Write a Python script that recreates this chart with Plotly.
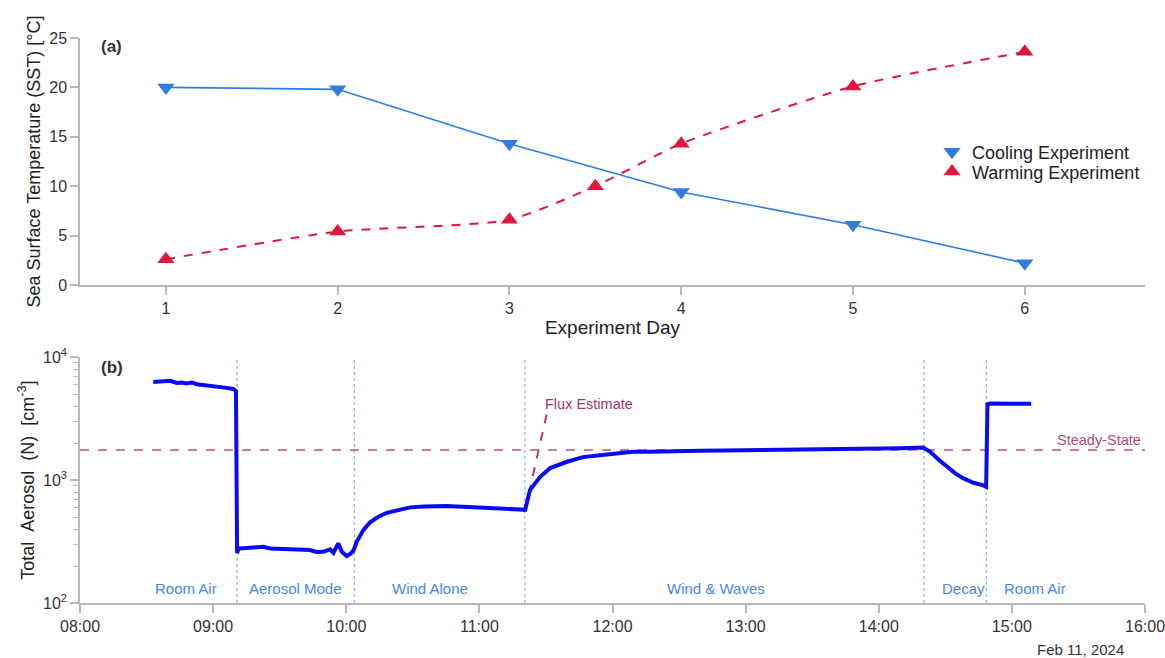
import math
import plotly.graph_objects as go

# ---------------- Panel (a): sea surface temperature by experiment day ----------------
cool_day = [1, 2, 3, 4, 5, 6]
cool_sst = [20.0, 19.8, 14.3, 9.4, 6.1, 2.2]

warm_day = [1, 2, 3, 3.5, 4, 5, 6]
warm_sst = [2.6, 5.4, 6.6, 10.0, 14.3, 20.1, 23.6]

# ---------------- Panel (b): total aerosol number concentration ----------------
DATE = "2024-02-11"
aer_time = [
    "08:33:00", "08:37:30", "08:40:36", "08:43:36", "08:45:48", "08:48:06", "08:50:24",
    "08:52:36", "08:57:06", "09:01:36", "09:06:06", "09:09:06", "09:10:18",
    "09:10:48", "09:11:30", "09:12:06", "09:16:36", "09:22:36", "09:25:42", "09:31:36",
    "09:37:42", "09:43:42", "09:46:42", "09:49:42", "09:52:42", "09:54:12", "09:56:24",
    "09:58:00", "10:00:12", "10:01:42", "10:03:12", "10:04:42", "10:07:42", "10:10:42",
    "10:14:30", "10:18:18", "10:22:48", "10:28:48", "10:35:00", "10:45:00", "10:55:00",
    "11:05:00", "11:15:00", "11:20:00", "11:20:30", "11:21:30", "11:22:48", "11:27:24",
    "11:31:54", "11:39:30", "11:46:42", "11:54:24", "12:02:00", "12:09:18", "12:16:54",
    "12:31:48", "12:39:30", "12:50:00", "13:00:00", "13:15:00", "13:30:00", "13:45:00",
    "14:00:00", "14:10:00", "14:20:00", "14:23:12", "14:26:54", "14:30:42", "14:34:30",
    "14:38:00", "14:42:42", "14:47:12", "14:48:24", "14:49:00", "14:50:00", "15:00:00",
    "15:08:42",
]
aer_n = [
    6300, 6420, 6420, 6180, 6230, 6110, 6230,
    6030, 5920, 5740, 5630, 5520, 5320,
    255, 280, 278, 284, 287, 278, 278,
    273, 270, 260, 261, 273, 256, 306,
    261, 241, 250, 266, 315, 392, 453,
    503, 542, 570, 600, 610, 615, 605,
    595, 585, 575, 560, 688, 830, 1064,
    1254, 1410, 1538, 1596, 1660, 1698, 1698,
    1737, 1737, 1740, 1745, 1755, 1765, 1780,
    1800, 1815, 1840, 1700, 1473, 1283, 1134,
    1037, 951, 905, 883, 4150, 4200, 4190,
    4180,
]

steady_state_n = 1760
flux_time = ["11:20:30", "11:30:24"]
flux_n = [560, 3480]

phase_bounds = ["09:10:48", "10:03:40", "11:20:30", "14:20:28", "14:48:30"]
phase_names = ["Room Air", "Aerosol Mode", "Wind Alone", "Wind & Waves", "Decay", "Room Air"]
phase_label_time = ["08:47:45", "09:36:55", "10:37:47", "12:46:42", "14:38:00", "15:10:30"]


def ts(t):
    return f"{DATE} {t}"


FONT = "Liberation Sans, Arial, sans-serif"
BLUE_SST = "#2f7de1"
RED_SST = "#e0163c"
ROSE = "#c0507e"
PHASE_BLUE = "#4a86e8"
AXIS_GREY = "#b8b8b8"

fig = go.Figure()

# panel (a) lines
fig.add_trace(go.Scatter(
    x=cool_day, y=cool_sst, mode="lines+markers", xaxis="x", yaxis="y",
    line=dict(color=BLUE_SST, width=1.6),
    marker=dict(symbol="triangle-down", size=15, color=BLUE_SST),
    showlegend=False,
))
fig.add_trace(go.Scatter(
    x=warm_day, y=warm_sst, mode="lines+markers", xaxis="x", yaxis="y",
    line=dict(color=RED_SST, width=2, dash="dash", shape="spline", smoothing=0.6),
    marker=dict(symbol="triangle-up", size=15, color=RED_SST),
    showlegend=False,
))
# legend entries (marker only), one legend box per entry for tight row spacing
fig.add_trace(go.Scatter(
    x=[None], y=[None], mode="markers", xaxis="x", yaxis="y", name="Cooling Experiment",
    marker=dict(symbol="triangle-down", size=15, color=BLUE_SST), legend="legend",
))
fig.add_trace(go.Scatter(
    x=[None], y=[None], mode="markers", xaxis="x", yaxis="y", name="Warming Experiment",
    marker=dict(symbol="triangle-up", size=15, color=RED_SST), legend="legend2",
))

# panel (b) reference lines and series
fig.add_trace(go.Scatter(
    x=[ts("08:00:00"), ts("16:00:00")], y=[steady_state_n, steady_state_n],
    mode="lines", xaxis="x2", yaxis="y2",
    line=dict(color=ROSE, width=2, dash="dash"), opacity=0.75, showlegend=False,
))
fig.add_trace(go.Scatter(
    x=[ts(t) for t in flux_time], y=flux_n, mode="lines", xaxis="x2", yaxis="y2",
    line=dict(color="#b0386c", width=2, dash="dash"), showlegend=False,
))
fig.add_trace(go.Scatter(
    x=[ts(t) for t in aer_time], y=aer_n, mode="lines", xaxis="x2", yaxis="y2",
    line=dict(color="#0a0af5", width=4), showlegend=False,
))

shapes = []
for t in phase_bounds:
    shapes.append(dict(
        type="line", xref="x2", yref="y2 domain", x0=ts(t), x1=ts(t), y0=0, y1=1,
        line=dict(color="#93b9f2", width=1.3, dash="dot"), layer="below",
    ))

annotations = [
    dict(text="<b>(a)</b>", xref="paper", yref="paper", x=0.0178, y=0.985,
         xanchor="left", yanchor="middle", showarrow=False,
         font=dict(size=17, color="#333", family=FONT)),
    dict(text="<b>(b)</b>", xref="paper", yref="paper", x=0.0178, y=0.416,
         xanchor="left", yanchor="middle", showarrow=False,
         font=dict(size=17, color="#333", family=FONT)),
    dict(text="Feb 11, 2024", xref="x2", yref="paper", x=ts("15:31:00"), y=-0.082,
         xanchor="center", yanchor="middle", showarrow=False,
         font=dict(size=15, color="#333", family=FONT)),
    dict(text="Steady-State", xref="x2 domain", yref="y2", x=0.998,
         y=math.log10(steady_state_n), xanchor="right", yanchor="bottom", showarrow=False,
         font=dict(size=14.5, color="#b8477a", family=FONT)),
    dict(text="Flux Estimate", xref="x2", yref="y2", x=ts("11:28:30"),
         y=math.log10(flux_n[1]), xanchor="left", yanchor="bottom", showarrow=False,
         font=dict(size=14.5, color="#a8336a", family=FONT)),
]
for name, t in zip(phase_names, phase_label_time):
    annotations.append(dict(
        text=name, xref="x2", yref="y2 domain", x=ts(t), y=0.06,
        xanchor="center", yanchor="middle", showarrow=False,
        font=dict(size=15, color=PHASE_BLUE, family=FONT),
    ))

axis_common = dict(
    showline=True, linecolor=AXIS_GREY, linewidth=1.5, ticks="outside",
    tickcolor=AXIS_GREY, tickwidth=1.5, ticklen=8, showgrid=False, zeroline=False,
    automargin=False,
    tickfont=dict(size=16, color="#333", family=FONT),
)

legend_common = dict(
    xanchor="left", yanchor="middle", bgcolor="rgba(0,0,0,0)",
    font=dict(size=18, color="#222", family=FONT), itemwidth=30,
)

fig.update_layout(
    width=1165, height=658,
    margin=dict(l=80, r=20, t=38, b=55),
    paper_bgcolor="white", plot_bgcolor="white",
    font=dict(family=FONT, color="#333"),
    xaxis=dict(
        domain=[0, 1], anchor="y", range=[0.5, 6.7], tickvals=[1, 2, 3, 4, 5, 6],
        title=dict(text="Experiment Day", font=dict(size=19, color="#222"), standoff=4),
        **axis_common,
    ),
    yaxis=dict(
        domain=[0.563, 1], anchor="x", range=[0, 25], tickvals=[0, 5, 10, 15, 20, 25],
        title=dict(text="Sea Surface Temperature (SST) [°C]", font=dict(size=18, color="#222"),
                   standoff=4),
        **axis_common,
    ),
    xaxis2=dict(
        domain=[0, 1], anchor="y2", type="date",
        range=[ts("08:00:00"), ts("16:00:00")], dtick=3600000, tickformat="%H:%M",
        ticklabeloverflow="allow",
        **axis_common,
    ),
    yaxis2=dict(
        domain=[0, 0.435], anchor="x2", type="log", range=[2, 4],
        tickvals=[100, 1000, 10000],
        ticktext=["10<sup>2</sup>", "10<sup>3</sup>", "10<sup>4</sup>"],
        minor=dict(ticks="outside", ticklen=5, tickcolor=AXIS_GREY, tickwidth=1,
                   tickvals=[200, 300, 400, 500, 600, 700, 800, 900,
                             2000, 3000, 4000, 5000, 6000, 7000, 8000, 9000],
                   showgrid=False),
        title=dict(text="Total\u00a0\u00a0Aerosol\u00a0\u00a0(N)\u00a0\u00a0[cm<sup>-3</sup>]",
                   font=dict(size=18, color="#222"), standoff=4),
        **axis_common,
    ),
    legend=dict(x=0.8, y=0.798, **legend_common),
    legend2=dict(x=0.8, y=0.763, **legend_common),
    shapes=shapes,
    annotations=annotations,
)

fig.write_html("out.html")
